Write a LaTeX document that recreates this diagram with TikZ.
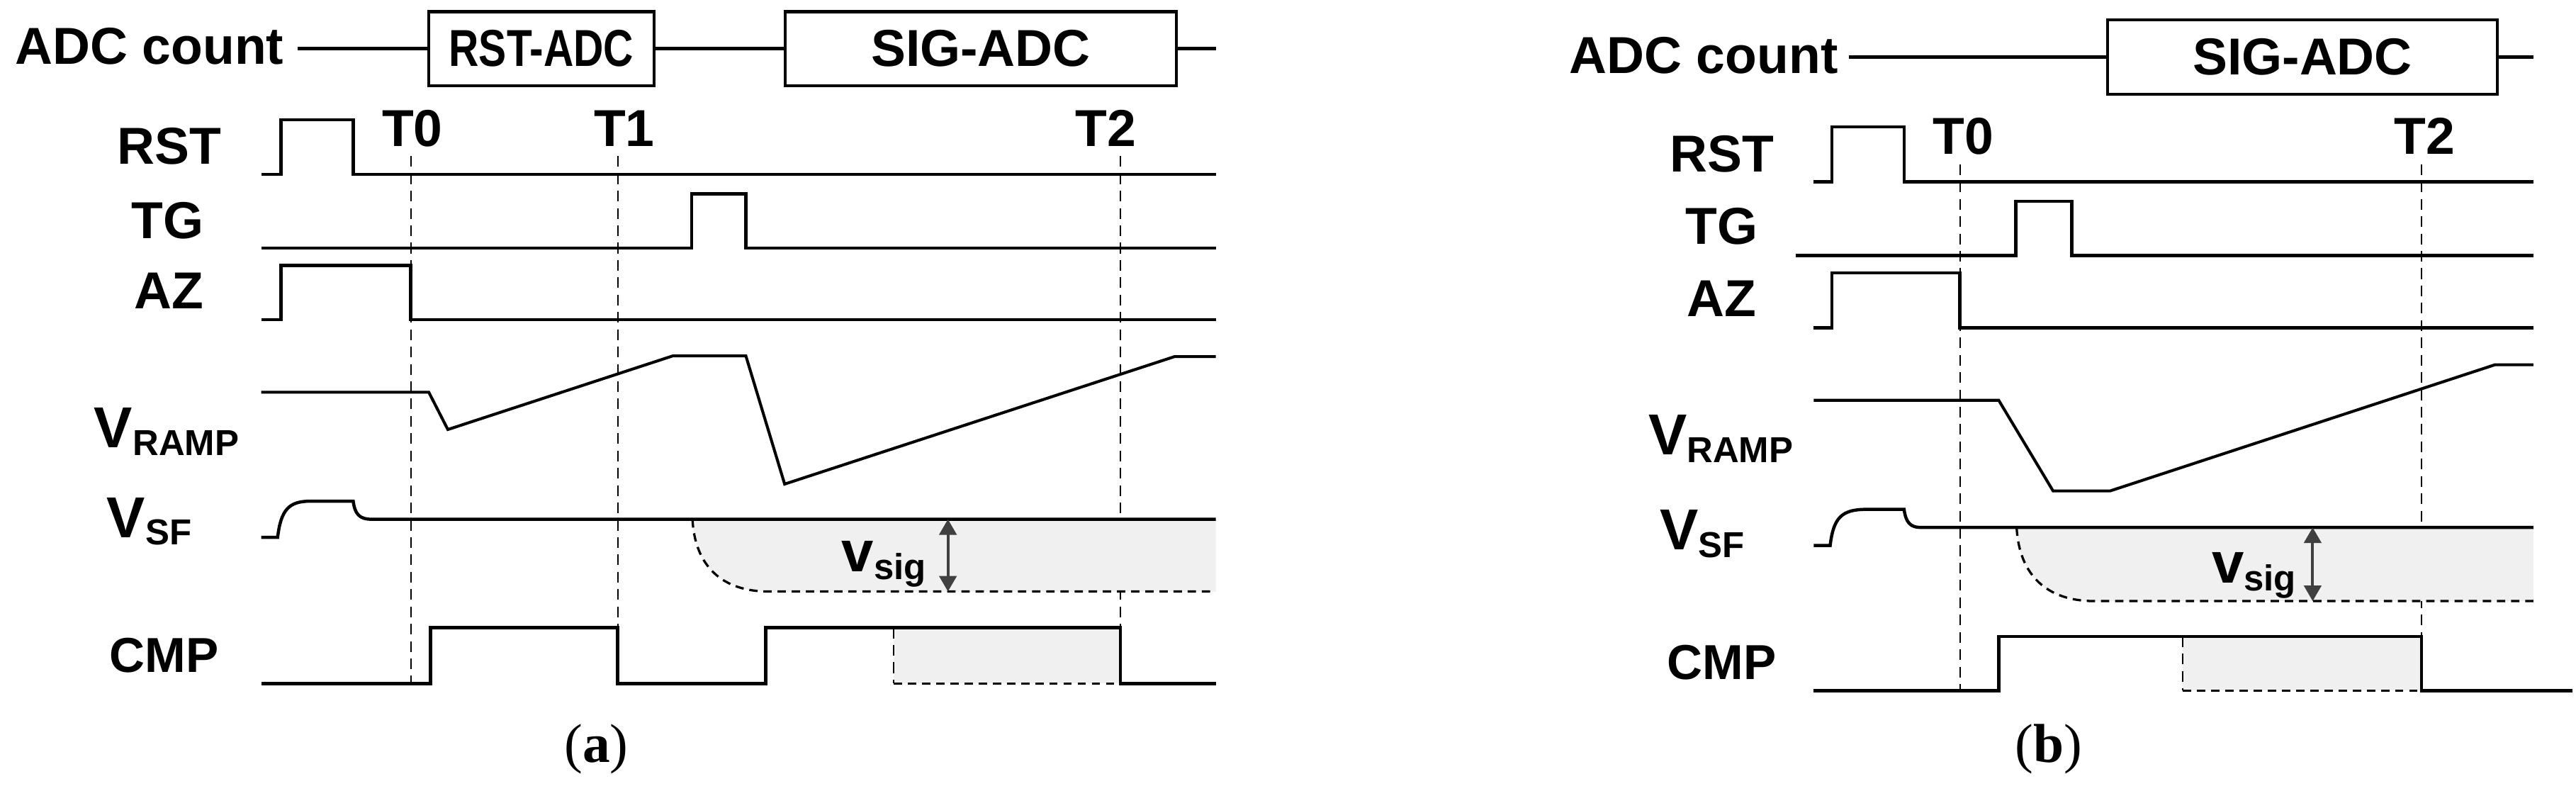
\documentclass[tikz,border=0pt]{standalone}
\usepackage{graphicx}
\usepackage{fontspec}
\setmainfont{Liberation Sans}
\newfontfamily\capfont{Liberation Serif}
\usepackage{tikz}
\usetikzlibrary{arrows.meta}
\definecolor{sigfill}{HTML}{F0F0F0}
\definecolor{arrgray}{HTML}{404040}
\newcommand{\lsub}[1]{\raisebox{-2.6pt}{\fontsize{12.5}{12.5}\selectfont #1}}

\begin{document}
\begin{tikzpicture}[x=0.02cm,y=-0.02cm,
  sig/.style={line width=1.1pt},
  ramp/.style={line width=1pt},
  tmark/.style={line width=0.5pt,dash pattern=on 3.7pt off 2.3pt},
  sigdash/.style={line width=0.8pt,dash pattern=on 2.9pt off 2pt},
  greyfill/.style={fill=sigfill},
  lbl/.style={inner sep=0pt,font=\bfseries\fontsize{18}{18}\selectfont},
  vlbl/.style={inner sep=0pt,anchor=base west,font=\bfseries\fontsize{20}{20}\selectfont},
  cntbox/.style={draw,line width=1pt,inner sep=0pt,minimum height=0.9cm,
    font=\bfseries\fontsize{18}{18}\selectfont},
  vsig/.style={<->,arrgray,line width=1pt,>={Triangle[width=0.21cm,length=0.19cm]}},
  capt/.style={inner sep=0pt,anchor=base,font=\capfont\fontsize{19}{19}\selectfont}]
\useasboundingbox (0,0) rectangle (1568,481);

% panel (a)
\node[lbl,anchor=base west] (cnta) at (9,39) {ADC count};
\node[cntbox,minimum width=2.74cm] (rsta) at (329.5,29.6) {\scalebox{0.8}[1]{RST-ADC}};
\node[cntbox,minimum width=4.76cm] (siga) at (597,29.6) {SIG-ADC};
\coordinate (ca) at (181,29.6);
\coordinate (enda) at (740,29.6);
\draw[sig] (ca) -- (rsta) -- (siga) -- (enda);

\node[lbl,anchor=base] (rstla) at (103,100) {RST};
\node[lbl,anchor=base] (tgla) at (102,145) {TG};
\node[lbl,anchor=base] (azla) at (103,188) {AZ};
\node[vlbl] (rampla) at (57,272.6) {V\lsub{RAMP}};
\node[vlbl] (sfla) at (64.7,327) {V\lsub{SF}};
\node[lbl,anchor=base,font=\bfseries\fontsize{17}{17}\selectfont] (cmpla) at (100,409) {CMP};
\node[lbl,anchor=base] (t0a) at (251,89) {T0};
\node[lbl,anchor=base] (t1a) at (380,89) {T1};
\node[lbl,anchor=base] (t2a) at (673,89) {T2};

\draw[tmark] (250,95) -- (250,416);
\draw[tmark] (376,95) -- (376,416);
\draw[tmark] (682,95) -- (682,416);

\draw[sig] (159,106) -- (171,106) -- (171,73) -- (215,73) -- (215,106) -- (740,106);
\draw[sig] (159,151) -- (421,151) -- (421,118) -- (454,118) -- (454,151) -- (740,151);
\draw[sig] (159,194.5) -- (171,194.5) -- (171,161.5) -- (250,161.5) -- (250,194.5) -- (740,194.5);
\draw[ramp] (159,238.7) -- (261,238.7) -- (272.6,261.4) -- (409.5,216.6) -- (454,216.6)
  -- (477.6,294.6) -- (715,217) -- (740,217);

\fill[greyfill] (421.5,316) .. controls (423,345) and (440,360) .. (468,360) -- (740,360) -- (740,316) -- cycle;
\draw[sigdash] (421.5,316) .. controls (423,345) and (440,360) .. (468,360) -- (740,360);
\draw[sig] (159,327) -- (169,327) .. controls (171,310) and (176,305) .. (189,305) -- (215,305)
  .. controls (216,313) and (219,316) .. (226,316) -- (740,316);
\draw[vsig] (577,316) -- (577,360);
\node[vlbl] (vsa) at (512,348) {v\lsub{sig}};

\fill[greyfill] (544,382) rectangle (682,416);
\draw[tmark] (544,382) -- (544,416);
\draw[sigdash] (544,416) -- (682,416);
\draw[sig] (159,416) -- (262,416) -- (262,382) -- (376,382) -- (376,416) -- (466,416)
  -- (466,382) -- (682,382) -- (682,416) -- (740,416);

\node[capt] (capa) at (363,464) {(\textbf{a})};

% panel (b)
\node[lbl,anchor=base west] (cntb) at (955,44.7) {ADC count};
\node[cntbox,minimum width=4.74cm] (sigb) at (1401.5,34.7) {SIG-ADC};
\coordinate (cb) at (1125.5,34.7);
\coordinate (endb) at (1542,34.7);
\draw[sig] (cb) -- (sigb) -- (endb);

\node[lbl,anchor=base] (rstlb) at (1048,104.8) {RST};
\node[lbl,anchor=base] (tglb) at (1048,148.7) {TG};
\node[lbl,anchor=base] (azlb) at (1048,192.5) {AZ};
\node[vlbl] (ramplb) at (1003,276.7) {V\lsub{RAMP}};
\node[vlbl] (sflb) at (1010,334.6) {V\lsub{SF}};
\node[lbl,anchor=base,font=\bfseries\fontsize{17}{17}\selectfont] (cmplb) at (1048,413.5) {CMP};
\node[lbl,anchor=base] (t0b) at (1195,94) {T0};
\node[lbl,anchor=base] (t2b) at (1476,94) {T2};

\draw[tmark] (1193,100) -- (1193,420.3);
\draw[tmark] (1474,100) -- (1474,420.3);

\draw[sig] (1104,110.6) -- (1115,110.6) -- (1115,77.3) -- (1159,77.3) -- (1159,110.6) -- (1542,110.6);
\draw[sig] (1093,155.6) -- (1227,155.6) -- (1227,122.5) -- (1261,122.5) -- (1261,155.6) -- (1542,155.6);
\draw[sig] (1104,199.5) -- (1115,199.5) -- (1115,166) -- (1193,166) -- (1193,199.5) -- (1542,199.5);
\draw[ramp] (1104,243.6) -- (1216.6,243.6) -- (1249.7,298.8) -- (1284.3,298.8) -- (1518.6,222) -- (1542,222);

\fill[greyfill] (1227.5,321) .. controls (1229,350) and (1246,365.8) .. (1274.5,365.8) -- (1542,365.8) -- (1542,321) -- cycle;
\draw[sigdash] (1227.5,321) .. controls (1229,350) and (1246,365.8) .. (1274.5,365.8) -- (1542,365.8);
\draw[sig] (1104,332) -- (1114,332) .. controls (1116,315) and (1121,310) .. (1136,310) -- (1159,310)
  .. controls (1160,318) and (1163,321) .. (1169,321) -- (1542,321);
\draw[vsig] (1407.7,321) -- (1407.7,365.8);
\node[vlbl] (vsb) at (1346,354.8) {v\lsub{sig}};

\fill[greyfill] (1328.7,387.3) rectangle (1474,420.3);
\draw[tmark] (1328.7,387.3) -- (1328.7,420.3);
\draw[sigdash] (1328.7,420.3) -- (1474,420.3);
\draw[sig] (1104,420.3) -- (1216.6,420.3) -- (1216.6,387.3) -- (1474,387.3) -- (1474,420.3) -- (1566,420.3);

\node[capt] (capb) at (1247,464) {(\textbf{b})};
\end{tikzpicture}
\end{document}
